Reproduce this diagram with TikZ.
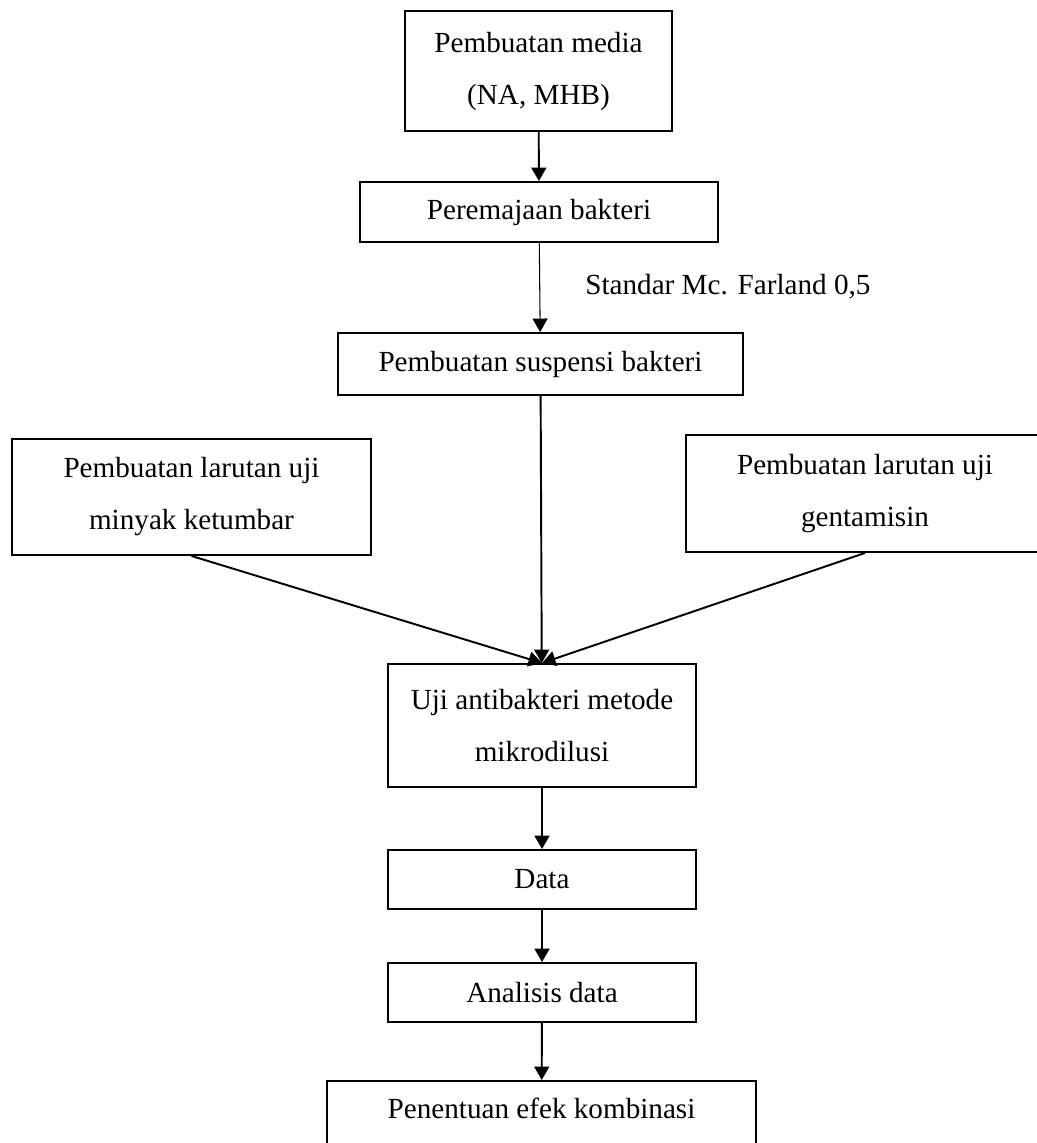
\documentclass[tikz,border=0pt]{standalone}
\usepackage{fontspec}
\setmainfont{Liberation Serif}
\usetikzlibrary{arrows.meta}
\begin{document}
\begin{tikzpicture}[x=0.02cm, y=-0.02cm, >={Triangle[length=0.27cm, width=0.3cm]},
   font=\fontsize{16.6}{29.6}\selectfont,
   box/.style={draw, line width=1.1pt, align=center, inner sep=0pt},
   link/.style={->, line width=1.1pt}]

\useasboundingbox (0,0) rectangle (1037,1143);
\clip (0,0) rectangle (1037,1143);

\node[box, minimum width=5.34cm, minimum height=2.4cm] (media) at (538.5,71) {Pembuatan media\\(NA, MHB)};
\node[box, minimum width=7.16cm, minimum height=1.2cm] (remaja) at (539,212) {Peremajaan bakteri};
\node[anchor=west, inner sep=0pt] (mcf) at (585,287) {Standar Mc. Farland 0,5};
\node[box, minimum width=8.1cm, minimum height=1.24cm] (suspensi) at (540.5,364) {Pembuatan suspensi bakteri};
\node[box, minimum width=7.18cm, minimum height=2.32cm] (ketumbar) at (191.5,497) {Pembuatan larutan uji\\minyak ketumbar};
\node[box, minimum width=7.16cm, minimum height=2.34cm] (genta) at (865,493.5) {Pembuatan larutan uji\\gentamisin};
\node[box, minimum width=6.16cm, minimum height=2.46cm] (uji) at (542,725.5) {Uji antibakteri metode\\mikrodilusi};
\node[box, minimum width=6.16cm, minimum height=1.18cm] (data) at (542,879.5) {Data};
\node[box, minimum width=6.16cm, minimum height=1.18cm] (analisis) at (542,992.5) {Analisis data};
\node[box, minimum width=8.58cm, text height=0.74cm, text depth=1.5cm, anchor=base] (hasil) at (541.5,1118) {Penentuan efek kombinasi};

\draw[link] (media) -- (remaja);
\draw[->, line width=0.6pt] (remaja) -- (suspensi);
\draw[link] (suspensi) -- (uji);
\draw[link] (ketumbar.south) -- (uji.north);
\draw[link] (genta.south) -- (uji.north);
\draw[link] (uji) -- (data);
\draw[link] (data) -- (analisis);
\draw[link] (analisis) -- (hasil);

\end{tikzpicture}
\end{document}
